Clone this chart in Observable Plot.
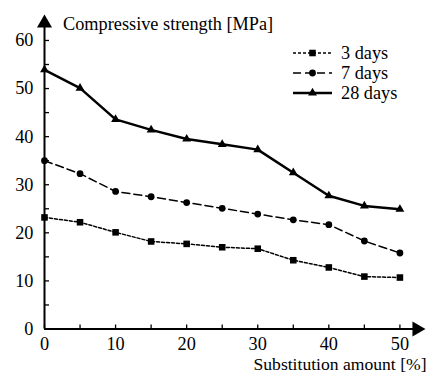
<!DOCTYPE html>
<html><head><meta charset="utf-8">
<script src="https://cdn.jsdelivr.net/npm/d3@7"></script>
<script src="https://cdn.jsdelivr.net/npm/@observablehq/plot@0.6"></script>
<style>
body{margin:0;background:#fff;}
#wrap{position:relative;width:428px;height:373px;font-family:"Liberation Serif","Times New Roman",serif;color:#000;}
#legend{position:absolute;left:292px;top:43px;font-size:18.3px;line-height:20px;}
.row{display:flex;align-items:center;height:20px;}
.row svg{margin-right:8px;}
</style></head><body><div id="wrap"></div>
<script>
// ---- data ----
const amounts = [0, 5, 10, 15, 20, 25, 30, 35, 40, 45, 50];
const days3  = [23.2, 22.2, 20.1, 18.2, 17.7, 17.0, 16.7, 14.3, 12.8, 10.9, 10.7];
const days7  = [35.0, 32.3, 28.6, 27.5, 26.3, 25.1, 23.9, 22.7, 21.7, 18.3, 15.8];
const days28 = [53.9, 50.1, 43.6, 41.4, 39.5, 38.4, 37.3, 32.5, 27.7, 25.6, 24.9];
const seriesNames = ["3 days", "7 days", "28 days"];
const yTicks = [0, 10, 20, 30, 40, 50, 60];
const yMinorTicks = [0, 5, 10, 15, 20, 25, 30, 35, 40, 45, 50, 55, 60];
const xTicks = [0, 10, 20, 30, 40, 50];
const xMinorTicks = [0, 5, 10, 15, 20, 25, 30, 35, 40, 45, 50];
const yTitle = "Compressive strength [MPa]";
const xTitle = "Substitution amount [%]";

// ---- styles ----
const styles = [
  {values: days3,  dash: "3,2", width: 1.5, symbol: "square",   r: 3.7},
  {values: days7,  dash: "8,4", width: 1.5, symbol: "circle",   r: 3.4},
  {values: days28, dash: null,  width: 2.5, symbol: "triangle", r: 3.3}
];

const X_MAX = 53.6, Y_MAX = 65.4;
const font = "Liberation Serif";
const fs = 18.3;

const marks = [];
// axes lines
marks.push(Plot.ruleY([0], {x1: 0, x2: X_MAX - 1.5, strokeWidth: 2}));
marks.push(Plot.ruleX([0], {y1: 0, y2: Y_MAX - 2.5, strokeWidth: 2}));
// arrowheads
marks.push(Plot.dot([0], {x: 0, y: Y_MAX, symbol: "triangle", r: 5.6, fill: "black", stroke: "none", dy: 8.7}));
marks.push(Plot.dot([0], {x: X_MAX, y: 0, symbol: "triangle", r: 5.6, fill: "black", stroke: "none", rotate: 90, dx: -8.7}));
// ticks
marks.push(Plot.axisY({ticks: yMinorTicks, tickSize: -5, tickFormat: () => "", strokeWidth: 1.3, label: null}));
marks.push(Plot.axisX({ticks: xMinorTicks, tickSize: -4, tickFormat: () => "", strokeWidth: 1.3, label: null}));
marks.push(Plot.axisY({ticks: yTicks, tickSize: 0, tickPadding: 11, fontSize: fs, fontFamily: font, label: null}));
marks.push(Plot.axisX({ticks: xTicks, tickSize: 0, tickPadding: 7.5, fontSize: fs, fontFamily: font, label: null}));
// series
styles.forEach((s, i) => {
  const data = amounts.map((a, j) => ({x: a, y: s.values[j], name: seriesNames[i]}));
  marks.push(Plot.line(data, {x: "x", y: "y", stroke: "black", strokeWidth: s.width, strokeDasharray: s.dash}));
  marks.push(Plot.dot(data, {x: "x", y: "y", symbol: () => s.symbol, r: s.r, fill: "black", stroke: "none"}));
});
// titles
marks.push(Plot.text([yTitle], {frameAnchor: "top-left", textAnchor: "start", lineAnchor: "bottom", dx: 18.5, dy: 15.5, fontSize: fs, fontFamily: font, text: d => d}));
marks.push(Plot.text([xTitle], {frameAnchor: "bottom-right", textAnchor: "end", lineAnchor: "bottom", dx: 1, dy: 40.5, fontSize: 17.6, fontFamily: font, text: d => d}));

const chart = Plot.plot({
  width: 428, height: 373,
  marginLeft: 44, marginRight: 3, marginTop: 14, marginBottom: 44.5,
  x: {domain: [0, X_MAX], axis: null},
  y: {domain: [0, Y_MAX], axis: null},
  symbol: {type: "identity"},
  style: {fontFamily: font, background: "white", overflow: "visible"},
  marks
});
const wrap = document.getElementById("wrap");
wrap.appendChild(chart);

// legend
const legend = document.createElement("div");
legend.id = "legend";
styles.forEach((s, i) => {
  const row = document.createElement("div");
  row.className = "row";
  const svg = d3.create("svg").attr("width", 41).attr("height", 14);
  svg.append("line").attr("x1", 1).attr("x2", 40).attr("y1", 7).attr("y2", 7)
    .attr("stroke", "black").attr("stroke-width", s.width).attr("stroke-dasharray", s.dash);
  const sym = {square: d3.symbolSquare, circle: d3.symbolCircle, triangle: d3.symbolTriangle}[s.symbol];
  svg.append("path").attr("d", d3.symbol(sym, s.r * s.r * Math.PI)()).attr("transform", "translate(20.5,7)").attr("fill", "black");
  row.appendChild(svg.node());
  const t = document.createElement("span");
  t.textContent = seriesNames[i];
  row.appendChild(t);
  legend.appendChild(row);
});
wrap.appendChild(legend);
</script></body></html>
